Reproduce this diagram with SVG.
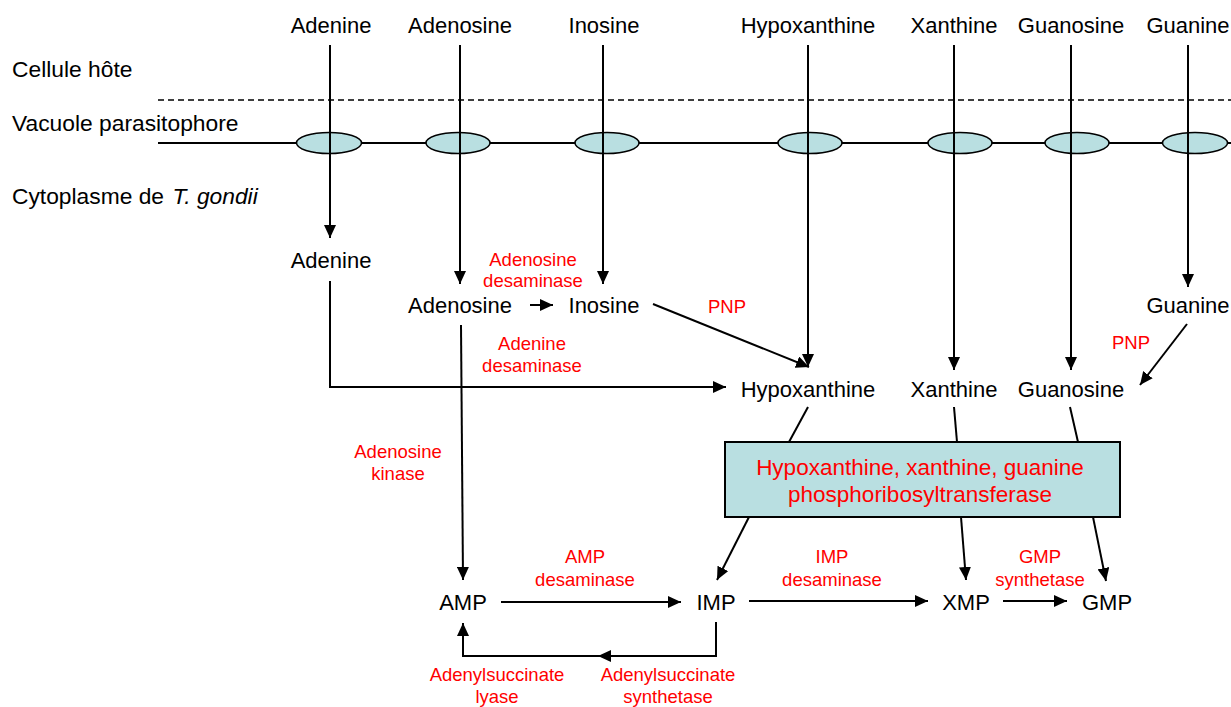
<svg xmlns="http://www.w3.org/2000/svg" width="1231" height="707" viewBox="0 0 1231 707">
<style>
text{font-family:"Liberation Sans",Arial,Helvetica,sans-serif;}
.b{font-size:22px;fill:#000;text-anchor:middle;}
.l{font-size:22.8px;fill:#000;}
.r{font-size:18.5px;fill:#ff0000;text-anchor:middle;}
.bx{font-size:22.5px;fill:#ff0000;text-anchor:middle;}
.ln{stroke:#000;stroke-width:2;fill:none;}
.a{stroke:#000;stroke-width:2;fill:none;marker-end:url(#arr);}
.ell{fill:#b9dfe1;stroke:#000;stroke-width:1.5;}
</style>
<defs>
<marker id="arr" markerUnits="userSpaceOnUse" markerWidth="13" markerHeight="12" refX="13" refY="6" orient="auto">
<path d="M0,0 L13,6 L0,12 z" fill="#000"/>
</marker>
</defs>
<rect width="1231" height="707" fill="#fff"/>

<g id="compartments">
<text class="l" x="12" y="77">Cellule hôte</text>
<text class="l" x="12" y="131">Vacuole parasitophore</text>
<text class="l" x="12" y="204">Cytoplasme de <tspan font-style="italic" dx="2">T. gondii</tspan></text>
<line x1="158" y1="100" x2="1231" y2="100" stroke="#000" stroke-width="1.5" stroke-dasharray="6,4"/>
<line x1="158" y1="143" x2="1231" y2="143" stroke="#000" stroke-width="2"/>
</g>

<g id="connectors">
<line class="a" x1="330" y1="45" x2="330" y2="238"/>
<line class="a" x1="460" y1="45" x2="460" y2="284"/>
<line class="a" x1="603" y1="45" x2="603" y2="284"/>
<line class="a" x1="808" y1="45" x2="808" y2="367"/>
<line class="a" x1="954" y1="45" x2="954" y2="370"/>
<line class="a" x1="1071" y1="45" x2="1071" y2="370"/>
<line class="a" x1="1188" y1="45" x2="1188" y2="287"/>
<line class="a" x1="530" y1="305" x2="553" y2="305"/>
<line class="a" x1="653" y1="304" x2="809" y2="367"/>
<polyline class="a" points="330,281 330,387 726,387"/>
<line class="a" x1="461" y1="325" x2="463" y2="580"/>
<line class="a" x1="1187" y1="324" x2="1140" y2="385"/>
<line class="ln" x1="808" y1="407" x2="789" y2="442"/>
<line class="ln" x1="954" y1="407" x2="957" y2="442"/>
<line class="ln" x1="1070" y1="407" x2="1078" y2="442"/>
<line class="a" x1="749" y1="517" x2="717" y2="580"/>
<line class="a" x1="961" y1="517" x2="966" y2="580"/>
<line class="a" x1="1093" y1="517" x2="1106" y2="581"/>
<line class="a" x1="501" y1="602" x2="681" y2="602"/>
<line class="a" x1="749" y1="601" x2="928" y2="601"/>
<line class="a" x1="1003" y1="601" x2="1067" y2="601"/>
<polyline class="a" points="716,622 716,656 598,656"/>
<polyline class="a" points="598,656 463,656 463,623"/>
</g>

<g id="transporters">
<ellipse class="ell" cx="329" cy="143" rx="32.5" ry="10.5"/>
<ellipse class="ell" cx="458" cy="143" rx="32" ry="10.5"/>
<ellipse class="ell" cx="607" cy="143" rx="32" ry="10.5"/>
<ellipse class="ell" cx="810" cy="143" rx="32" ry="10.5"/>
<ellipse class="ell" cx="960" cy="143" rx="32" ry="10.5"/>
<ellipse class="ell" cx="1077" cy="143" rx="32" ry="10.5"/>
<ellipse class="ell" cx="1195" cy="143" rx="32.5" ry="10.5"/>
</g>
<g id="transporter-lines">
<line class="ln" x1="330" y1="132" x2="330" y2="154"/>
<line class="ln" x1="460" y1="132" x2="460" y2="154"/>
<line class="ln" x1="603" y1="132" x2="603" y2="154"/>
<line class="ln" x1="808" y1="132" x2="808" y2="154"/>
<line class="ln" x1="954" y1="132" x2="954" y2="154"/>
<line class="ln" x1="1071" y1="132" x2="1071" y2="154"/>
<line class="ln" x1="1188" y1="132" x2="1188" y2="154"/>
</g>

<g id="host-adenine"><text class="b" x="331" y="33">Adenine</text></g>
<g id="host-adenosine"><text class="b" x="460" y="33">Adenosine</text></g>
<g id="host-inosine"><text class="b" x="604" y="33">Inosine</text></g>
<g id="host-hypoxanthine"><text class="b" x="808" y="33">Hypoxanthine</text></g>
<g id="host-xanthine"><text class="b" x="954" y="33">Xanthine</text></g>
<g id="host-guanosine"><text class="b" x="1071" y="33">Guanosine</text></g>
<g id="host-guanine"><text class="b" x="1188" y="33">Guanine</text></g>

<g id="adenine"><text class="b" x="331" y="268">Adenine</text></g>
<g id="adenosine"><text class="b" x="460" y="313">Adenosine</text></g>
<g id="inosine"><text class="b" x="604" y="313">Inosine</text></g>
<g id="hypoxanthine"><text class="b" x="808" y="397">Hypoxanthine</text></g>
<g id="xanthine"><text class="b" x="954" y="397">Xanthine</text></g>
<g id="guanosine"><text class="b" x="1071" y="397">Guanosine</text></g>
<g id="guanine"><text class="b" x="1188" y="313">Guanine</text></g>

<g id="hgprt">
<rect x="725" y="442" width="395" height="75" fill="#b9dfe1" stroke="#000" stroke-width="2"/>
<text class="bx" x="920" y="475">Hypoxanthine, xanthine, guanine</text>
<text class="bx" x="920" y="502">phosphoribosyltransferase</text>
</g>

<g id="amp"><text class="b" x="463" y="610">AMP</text></g>
<g id="imp"><text class="b" x="716" y="610">IMP</text></g>
<g id="xmp"><text class="b" x="966" y="610">XMP</text></g>
<g id="gmp"><text class="b" x="1107" y="610">GMP</text></g>

<g id="enzymes">
<text class="r" x="533" y="266">Adenosine</text>
<text class="r" x="533" y="287">desaminase</text>
<text class="r" x="727" y="313">PNP</text>
<text class="r" x="532" y="350">Adenine</text>
<text class="r" x="532" y="372">desaminase</text>
<text class="r" x="1131" y="349">PNP</text>
<text class="r" x="398" y="458">Adenosine</text>
<text class="r" x="398" y="480">kinase</text>
<text class="r" x="585" y="563">AMP</text>
<text class="r" x="585" y="586">desaminase</text>
<text class="r" x="832" y="563">IMP</text>
<text class="r" x="832" y="586">desaminase</text>
<text class="r" x="1040" y="563">GMP</text>
<text class="r" x="1040" y="586">synthetase</text>
<text class="r" x="497" y="681">Adenylsuccinate</text>
<text class="r" x="497" y="703">lyase</text>
<text class="r" x="668" y="681">Adenylsuccinate</text>
<text class="r" x="668" y="703">synthetase</text>
</g>
</svg>
